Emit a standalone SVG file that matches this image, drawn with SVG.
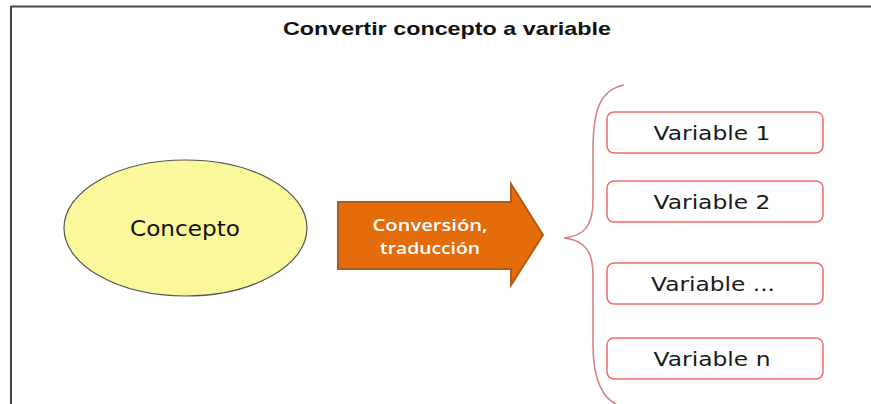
<svg xmlns="http://www.w3.org/2000/svg" width="871" height="404" viewBox="0 0 871 404">
<style>
.var rect{fill:#ffffff;stroke:#f26b6b;stroke-width:1.5}
.var text{font-family:"DejaVu Sans",Verdana,sans-serif;font-size:19px;fill:#1a1a1a;text-anchor:middle}
</style>
<rect x="0" y="0" width="871" height="404" fill="#ffffff"/>
<g id="frame">
<line x1="11" y1="6.5" x2="871" y2="6.5" stroke="#444" stroke-width="2"/>
<line x1="11" y1="6" x2="11" y2="404" stroke="#444" stroke-width="2"/>
</g>
<text x="447" y="35" font-family="'Liberation Sans',Arial,sans-serif" font-weight="bold" font-size="19" fill="#111" text-anchor="middle" textLength="328" lengthAdjust="spacingAndGlyphs">Convertir concepto a variable</text>
<g id="concepto">
<ellipse cx="185.5" cy="228" rx="121.5" ry="68" fill="#fbf79b" stroke="#555" stroke-width="1.2"/>
<text x="185" y="236" font-family="'DejaVu Sans',Verdana,sans-serif" font-size="21" fill="#111" text-anchor="middle" textLength="110" lengthAdjust="spacingAndGlyphs">Concepto</text>
</g>
<g id="conversion">
<path d="M338,202 H511 V184 L543,235 L511,285 V269 H338 Z" fill="#e46c0a" stroke="#b45a18" stroke-width="2"/>
<text x="430" y="231" font-family="'Open Sans',sans-serif" font-weight="600" font-size="16" fill="#ffffff" text-anchor="middle" textLength="115" lengthAdjust="spacingAndGlyphs">Conversión,</text>
<text x="430" y="254" font-family="'Open Sans',sans-serif" font-weight="600" font-size="16" fill="#ffffff" text-anchor="middle" textLength="100" lengthAdjust="spacingAndGlyphs">traducción</text>
</g>
<g id="connectors">
<path d="M624,85 C600,90 593,110 593,150 V200 C593,225 585,236 564,238 C585,240 593,252 593,275 V345 C593,380 603,398 616,404" fill="none" stroke="#d98282" stroke-width="1.6"/>
</g>
<g id="var1" class="var"><rect x="607" y="112" width="216" height="41" rx="7"/><text x="712" y="140" textLength="117" lengthAdjust="spacingAndGlyphs">Variable 1</text></g>
<g id="var2" class="var"><rect x="607" y="181" width="216" height="41" rx="7"/><text x="712" y="209" textLength="117" lengthAdjust="spacingAndGlyphs">Variable 2</text></g>
<g id="var3" class="var"><rect x="607" y="263" width="216" height="41" rx="7"/><text x="713" y="291" textLength="124" lengthAdjust="spacingAndGlyphs">Variable ...</text></g>
<g id="varn" class="var"><rect x="607" y="338" width="216" height="41" rx="7"/><text x="712" y="366" textLength="117" lengthAdjust="spacingAndGlyphs">Variable n</text></g>
</svg>
